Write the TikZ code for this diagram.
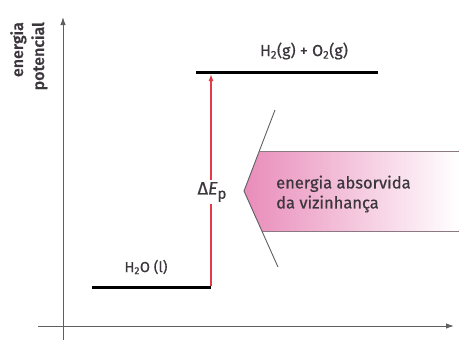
\documentclass[tikz,border=0pt]{standalone}
\usepackage{fontspec}
\setmainfont{Fira Sans}[FakeBold=0.6]
\newfontfamily\lblfont{Fira Sans Medium}[FakeBold=0.8]
\usetikzlibrary{arrows.meta}
\definecolor{axisgray}{RGB}{95,95,95}
\definecolor{txtgray}{RGB}{60,55,60}
\definecolor{redline}{RGB}{225,60,72}
\definecolor{pinkL}{RGB}{233,140,186}
\definecolor{edgegray}{RGB}{140,120,130}
\tikzset{
  axisline/.style={draw=axisgray, line width=1pt, -{Latex[length=8pt,width=5.5pt]}},
  level/.style={draw=black, line width=3pt},
  lbl/.style={text=txtgray, inner sep=0pt},
  axlbl/.style={lbl, rotate=90, anchor=base east, font=\lblfont\fontsize{16}{18}\selectfont},
}
\begin{document}
\begin{tikzpicture}[x=1pt,y=-1pt]
\useasboundingbox (0,0) rectangle (459,341);
% axes
\coordinate (yb) at (63,340);
\coordinate (yt) at (63,17);
\coordinate (xl) at (38,326);
\coordinate (xr) at (454,326);
\draw[axisline] (yb) -- (yt);
\draw[axisline] (xl) -- (xr);
\node[axlbl] (ylab1) at (23,22) {energia};
\node[axlbl] (ylab2) at (44,22) {potencial};
% levels
\coordinate (l1a) at (92,287);
\coordinate (l1b) at (211,287);
\coordinate (l2a) at (196,72);
\coordinate (l2b) at (378,72);
\draw[level] (l1a) -- (l1b);
\draw[level] (l2a) -- (l2b);
\node[lbl, font=\fontsize{14.5}{16}\selectfont] (h2o) at (146,267) {H\textsubscript{2}O (l)};
\node[lbl, font=\fontsize{16}{18}\selectfont] (h2) at (304,51) {H\textsubscript{2}(g) + O\textsubscript{2}(g)};
% red arrow
\coordinate (rb) at (211,286);
\coordinate (rt) at (211,74);
\draw[redline, line width=1.3pt, -{Latex[length=7pt,width=5pt]}] (rb) -- (rt);
\node[lbl, fill=white, inner sep=2pt, font=\fontsize{18}{20}\selectfont] (dE) at (212,192) {Δ\textit{E}\raisebox{-0.45ex}{\fontsize{15}{15}\selectfont p}};
% pink band
\shade[left color=pinkL, right color=white]
  (459,151) -- (259.5,151) -- (244,191) -- (261.7,231) -- (459,231) -- cycle;
\draw[edgegray, line width=0.8pt] (259.5,151) -- (459,151);
\draw[edgegray, line width=0.8pt] (261.7,231) -- (459,231);
\coordinate (c1) at (275,110);
\coordinate (c2) at (244,191);
\coordinate (c3) at (278,267);
\draw[axisgray, line width=0.9pt] (c1) -- (c2) -- (c3);
\node[lbl, anchor=west, align=left, font=\fontsize{16.5}{20}\selectfont] (band) at (276,194) {energia absorvida\\da vizinhança};
\end{tikzpicture}
\end{document}
